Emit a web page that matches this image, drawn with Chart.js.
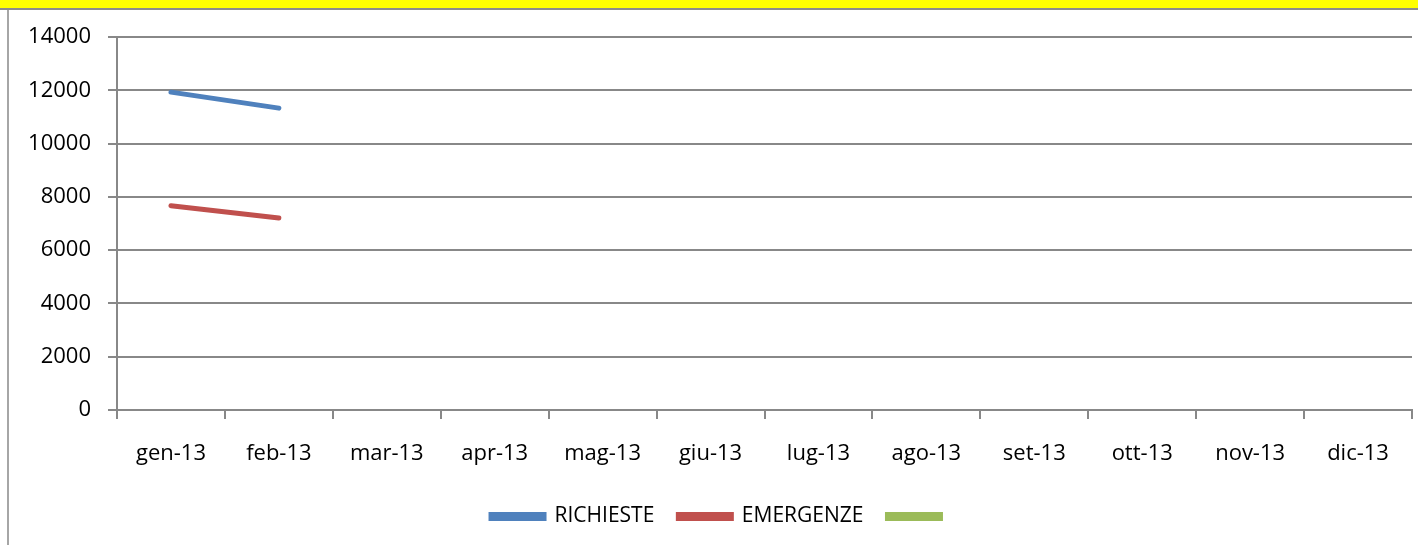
<!DOCTYPE html>
<html>
<head>
<meta charset="utf-8">
<script src="https://cdn.jsdelivr.net/npm/chart.js@4.4.0/dist/chart.umd.min.js"></script>
<style>
  html, body { margin: 0; padding: 0; background: #fff; }
  body { width: 1418px; height: 545px; position: relative; overflow: hidden; }
  #band { position: absolute; left: 0; top: 0; width: 1418px; height: 8px; background: #ffff00; }
  #bandline { position: absolute; left: 0; top: 8px; width: 1418px; height: 2px; background: #8c8c8c; }
  #leftline { position: absolute; left: 7px; top: 10px; width: 2px; height: 535px; background: #a6a6a6; }
  #wrap { position: absolute; left: 0; top: 0; width: 1418px; height: 545px; }
</style>
</head>
<body>
<div id="band"></div>
<div id="bandline"></div>
<div id="leftline"></div>
<div id="wrap"><canvas id="c" width="1418" height="545"></canvas></div>
<script>
const categories = ['gen-13','feb-13','mar-13','apr-13','mag-13','giu-13','lug-13','ago-13','set-13','ott-13','nov-13','dic-13'];
const richieste = [11930, 11330, null, null, null, null, null, null, null, null, null, null];
const emergenze = [7670, 7210, null, null, null, null, null, null, null, null, null, null];
const terza = [null, null, null, null, null, null, null, null, null, null, null, null];
const seriesLabels = ['RICHIESTE', 'EMERGENZE', ''];
const yTicks = [0, 2000, 4000, 6000, 8000, 10000, 12000, 14000];

const FONT = "'Open Sans', sans-serif";
const GRID = '#888888';

new Chart(document.getElementById('c'), {
  type: 'line',
  data: {
    labels: categories,
    datasets: [
      { label: seriesLabels[0], data: richieste, borderColor: '#4F81BD', backgroundColor: '#4F81BD' },
      { label: seriesLabels[1], data: emergenze, borderColor: '#C0504D', backgroundColor: '#C0504D' },
      { label: seriesLabels[2], data: terza, borderColor: '#9BBB59', backgroundColor: '#9BBB59' }
    ].map(d => Object.assign(d, { borderWidth: 5, pointRadius: 0, borderCapStyle: 'round', tension: 0, spanGaps: false }))
  },
  options: {
    responsive: false,
    animation: false,
    layout: { padding: { left: 30, right: 6, top: 37, bottom: 8 } },
    plugins: {
      tooltip: { enabled: false },
      legend: {
        position: 'bottom',
        labels: {
          color: '#000',
          font: { family: FONT, size: 21 },
          boxWidth: 53,
          boxHeight: 4,
          padding: 24
        }
      }
    },
    scales: {
      x: {
        offset: true,
        grid: { offset: true, drawOnChartArea: false, drawTicks: true, tickLength: 9, color: GRID, lineWidth: 2 },
        border: { color: GRID, width: 2 },
        ticks: { color: '#000', font: { family: FONT, size: 22 }, padding: 22, maxRotation: 0, autoSkip: false },
        afterFit: s => { s.height = 72; }
      },
      y: {
        min: 0, max: 14000,
        afterBuildTicks: s => { s.ticks = yTicks.map(v => ({ value: v })); },
        grid: { color: GRID, lineWidth: 2, tickLength: 9 },
        border: { color: GRID, width: 2 },
        ticks: { color: '#000', font: { family: FONT, size: 22 }, padding: 17, callback: v => String(v) },
        afterFit: s => { s.width = 87; }
      }
    }
  }
});
</script>
</body>
</html>
